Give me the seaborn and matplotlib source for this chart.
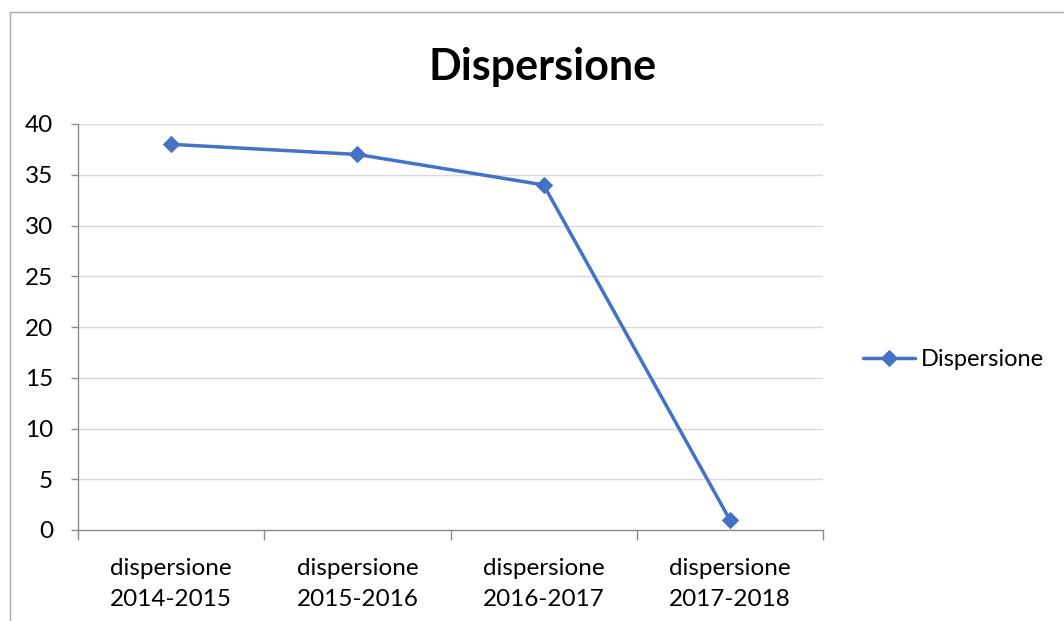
import matplotlib
matplotlib.use("Agg")
import matplotlib.pyplot as plt
import seaborn as sns
import pandas as pd
from matplotlib.lines import Line2D

categories = ["dispersione\n2014-2015", "dispersione\n2015-2016", "dispersione\n2016-2017", "dispersione\n2017-2018"]
values = [38, 37, 34, 1]
series_name = "Dispersione"
yticks = [0, 5, 10, 15, 20, 25, 30, 35, 40]

sns.set_style("white")
plt.rcParams['font.family'] = ['Lato', 'DejaVu Sans']

df = pd.DataFrame({"cat": categories, "val": values})

fig = plt.figure(figsize=(10.64, 6.21), dpi=100)
ax = fig.add_axes([78/1064, 1-530/621, (823-78)/1064, (530-124)/621])

color = "#4472C4"
sns.lineplot(data=df, x="cat", y="val", ax=ax, color=color, linewidth=2.5,
             marker="D", markersize=8, markeredgecolor=color, label=series_name, sort=False)

ax.set_xlim(-0.5, len(categories) - 0.5)
ax.set_ylim(0, 40)
ax.set_yticks(yticks)
ax.set_yticklabels([str(t) for t in yticks], fontsize=17.5, color="black")
ax.yaxis.grid(True, color="#d9d9d9", linewidth=1)
ax.set_axisbelow(True)

ax.set_xticks([i - 0.5 for i in range(len(categories) + 1)])
ax.set_xticklabels([])
ax.set_xticks(range(len(categories)), minor=True)
ax.set_xticklabels(categories, minor=True, fontsize=17.5, color="black", linespacing=1.6)
ax.tick_params(axis="x", which="major", bottom=True, direction="out", length=7, color="#8c8c8c", width=1)
ax.tick_params(axis="x", which="minor", bottom=True, length=0, pad=20)
ax.tick_params(axis="y", left=True, direction="out", length=5, color="#8c8c8c", width=1, pad=13)

for s in ["top", "right"]:
    ax.spines[s].set_visible(False)
for s in ["left", "bottom"]:
    ax.spines[s].set_color("#8c8c8c")
    ax.spines[s].set_linewidth(1)

ax.set_xlabel("")
ax.set_ylabel("")

fig.text(543/1064, 1-67/621, "Dispersione", fontsize=31, fontweight="bold", ha="center", va="center", color="black")

leg = ax.legend(loc="center left", bbox_to_anchor=(863/1064, 1-360/621), bbox_transform=fig.transFigure,
                frameon=False, fontsize=17, handlelength=2.2, handletextpad=0.25, borderpad=0, borderaxespad=0)
for t in leg.get_texts():
    t.set_color("black")

# outer chart frame
fig.add_artist(Line2D([10/1064, 10/1064], [0, 1-12/621], transform=fig.transFigure, color="#a6a6a6", linewidth=1))
fig.add_artist(Line2D([10/1064, 1], [1-12/621, 1-12/621], transform=fig.transFigure, color="#a6a6a6", linewidth=1))

fig.savefig("out.png", dpi=100)
